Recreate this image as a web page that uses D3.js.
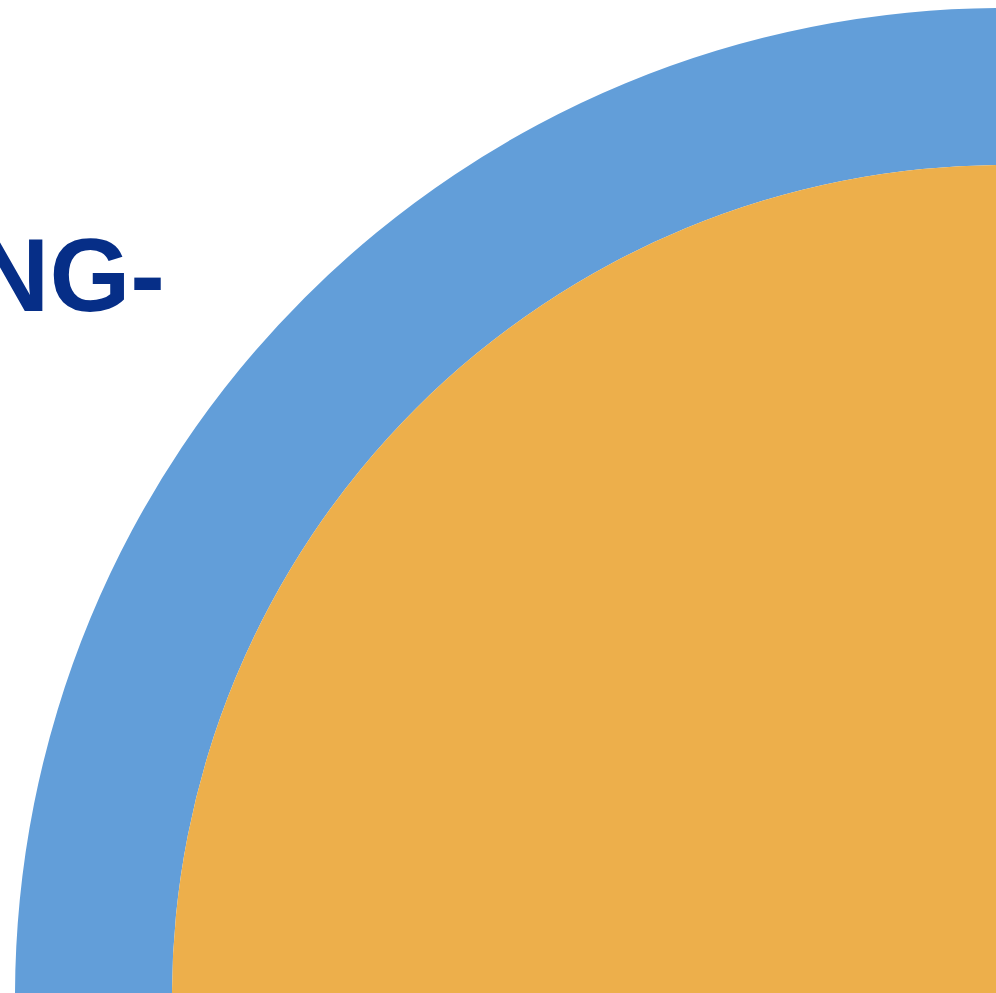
<!DOCTYPE html>
<html lang="en">
<head>
    <meta charset="UTF-8">
    <title>Ring chart</title>
    <script src="https://d3js.org/d3.v7.min.js"></script>
    <style>
        body { margin: 0; background: #fff; overflow: hidden; }
        .label {
            font-family: "Liberation Sans", Arial, sans-serif;
            font-weight: bold;
        }
    </style>
</head>
<body>
<script>
// Data: one value per ring, outer ring first
const rings = ["Outer", "Inner"];
const ringValues = [1, 1];
const ringColors = ["#629ed9", "#edaf4b"];
const labelText = ["NG-"];

const width = 996, height = 993;

const svg = d3.select("body").append("svg")
    .attr("width", width)
    .attr("height", height);

// Circle centre sits just past the bottom-right corner
const centre = {x: 1004, y: 997};
const radius = d3.scaleLinear().domain([0, 1]).range([0, 989]);
const ringEdges = [[0.8413, 1], [0, 0.8413]]; // inner/outer as share of full radius

const g = svg.append("g")
    .attr("transform", `translate(${centre.x},${centre.y})`);

rings.forEach((name, i) => {
    const pie = d3.pie().sort(null)([ringValues[i]]);
    const arc = d3.arc()
        .innerRadius(radius(ringEdges[i][0]))
        .outerRadius(radius(ringEdges[i][1]));
    g.selectAll(`.ring-${i}`)
        .data(pie)
        .enter()
        .append("path")
        .attr("class", `ring-${i}`)
        .attr("d", arc)
        .style("fill", ringColors[i]);
});

// Title fragment at upper left
svg.append("text")
    .attr("class", "label")
    .attr("x", 165)
    .attr("y", 311)
    .attr("text-anchor", "end")
    .style("font-size", "104px")
    .style("fill", "#062e87")
    .text(labelText[0]);
</script>
</body>
</html>
